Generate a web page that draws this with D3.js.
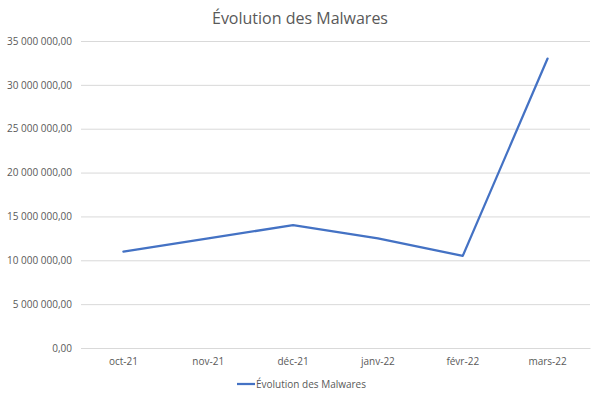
<!DOCTYPE html>
<html><head><meta charset="utf-8">
<script src="https://cdn.jsdelivr.net/npm/d3@7"></script>
<style>body{margin:0;background:#fff}text{font-family:"Open Sans",sans-serif}</style>
</head><body><svg id="c" width="600" height="400"></svg>
<script>
const categories = ["oct-21","nov-21","déc-21","janv-22","févr-22","mars-22"];
const values = [11000000,12500000,14000000,12500000,10500000,33000000];
const yTicks = [0,5000000,10000000,15000000,20000000,25000000,30000000,35000000];
const seriesName = "Évolution des Malwares";

(function(){
const svg = d3.select("#c");
const mLeft=81,mRight=590,mTop=41,mBottom=348;
const x = d3.scaleBand().domain(categories).range([mLeft,mRight]);
const y = d3.scaleLinear().domain([0,35000000]).range([mBottom,mTop]);
const fmt = v => { const s = d3.format(",.2f")(v); return s.replace(/,/g," ").replace(".",","); };

svg.append("text").attr("x",300).attr("y",24).attr("text-anchor","middle")
  .attr("font-size",16).attr("fill","#595959").text("Évolution des Malwares");

const ya = svg.append("g").attr("transform",`translate(${mLeft},0)`)
  .call(d3.axisLeft(y).tickValues(yTicks).tickSize(-(mRight-mLeft)).tickPadding(9).tickFormat(fmt));
ya.select(".domain").remove();
ya.selectAll("line").attr("stroke","#d9d9d9");
ya.selectAll("text").attr("fill","#595959").attr("font-size",10).style("font-family","'Open Sans',sans-serif");

const xa = svg.append("g").attr("transform",`translate(0,${mBottom})`)
  .call(d3.axisBottom(x).tickSize(0).tickPadding(10));
xa.select(".domain").attr("stroke","#d9d9d9");
xa.selectAll("text").attr("fill","#595959").attr("font-size",10).style("font-family","'Open Sans',sans-serif");

const line = d3.line().x((d,i)=>x(categories[i])+x.bandwidth()/2).y(d=>y(d));
svg.append("path").datum(values).attr("d",line).attr("fill","none")
  .attr("stroke","#4472C4").attr("stroke-width",2.25).attr("stroke-linejoin","round").attr("stroke-linecap","round");

const lg = svg.append("g");
lg.append("line").attr("x1",237).attr("x2",255).attr("y1",384).attr("y2",384).attr("stroke","#4472C4").attr("stroke-width",2.25);
lg.append("text").attr("x",256).attr("y",388).attr("font-size",10).attr("fill","#595959").text(seriesName);
})();
</script></body></html>
